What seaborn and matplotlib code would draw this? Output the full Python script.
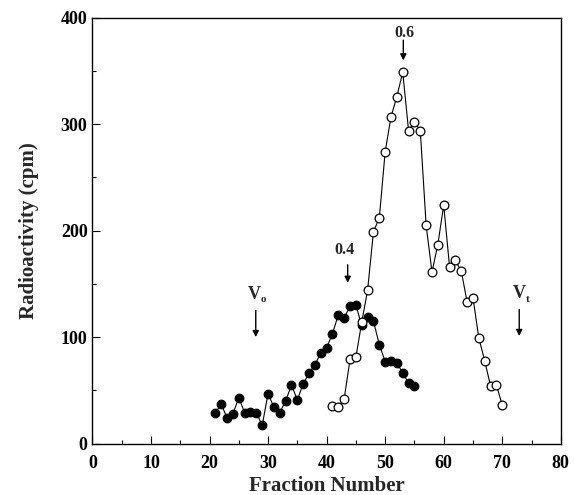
import matplotlib.pyplot as plt
import matplotlib.ticker as mt
import pandas as pd
import seaborn as sns

# fractions and counts
closed_fraction = list(range(21, 56))
closed_cpm = [29, 37, 24, 28, 43, 29, 30, 29, 17, 47, 34, 29, 40, 55, 41, 56, 66, 74,
              85, 90, 103, 121, 118, 129, 130, 111, 119, 115, 93, 77, 78, 76, 66, 57, 54]
open_fraction = list(range(41, 71))
open_cpm = [35, 34, 42, 79, 81, 114, 144, 199, 212, 274, 307, 326, 349, 294, 302, 294,
            205, 161, 187, 224, 166, 172, 162, 133, 137, 99, 78, 54, 55, 36]

sns.set_style("ticks")
plt.rcParams['font.family'] = ['Liberation Serif', 'DejaVu Serif']
plt.rcParams['font.weight'] = 'bold'

closed = pd.DataFrame({"fraction": closed_fraction, "cpm": closed_cpm})
opened = pd.DataFrame({"fraction": open_fraction, "cpm": open_cpm})

fig = plt.figure(figsize=(5.74, 4.95), dpi=100)
ax = fig.add_axes([0.161, 0.104, 0.816, 0.860])

sns.lineplot(ax=ax, data=closed, x="fraction", y="cpm", color="black", lw=0.8,
             marker="o", markersize=6.3, markerfacecolor="black", markeredgecolor="black")
sns.lineplot(ax=ax, data=opened, x="fraction", y="cpm", color="black", lw=0.8,
             marker="o", markersize=6.3, markerfacecolor="white", markeredgecolor="black",
             markeredgewidth=0.9)

ax.set_xlim(0, 80)
ax.set_ylim(0, 400)
ax.xaxis.set_major_locator(mt.MultipleLocator(10))
ax.xaxis.set_minor_locator(mt.MultipleLocator(5))
ax.yaxis.set_major_locator(mt.MultipleLocator(100))
ax.yaxis.set_minor_locator(mt.MultipleLocator(50))
ax.tick_params(which="both", direction="in", labelsize=13, width=0.8, colors="black")
ax.tick_params(which="major", length=6)
ax.tick_params(which="minor", length=3)
ax.tick_params(axis="x", pad=8)
for s in ax.spines.values():
    s.set_linewidth(1.0)
    s.set_color("black")

ax.set_xlabel("Fraction Number", fontsize=15, fontweight="bold", labelpad=3)
ax.set_ylabel("Radioactivity (cpm)", fontsize=15, fontweight="bold", labelpad=16)

arrow = dict(arrowstyle="-|>", color="black", lw=1, mutation_scale=9, shrinkA=0, shrinkB=0)
# V0 marker
ax.annotate("", xy=(27.9, 100), xytext=(27.9, 125), arrowprops=arrow)
ax.text(27.6, 132, "V", ha="center", va="bottom", fontsize=13, fontweight="bold")
ax.text(28.8, 131, "o", ha="left", va="bottom", fontsize=8, fontweight="bold")
# 0.4
ax.annotate("", xy=(43.6, 151), xytext=(43.6, 168), arrowprops=arrow)
ax.text(43.1, 174, "0.4", ha="center", va="bottom", fontsize=11.5, fontweight="bold")
# 0.6
ax.annotate("", xy=(53.1, 360), xytext=(53.1, 379), arrowprops=arrow)
ax.text(53.3, 378, "0.6", ha="center", va="bottom", fontsize=11.5, fontweight="bold")
# Vt
ax.annotate("", xy=(72.9, 101), xytext=(72.9, 126), arrowprops=arrow)
ax.text(72.9, 133, "V", ha="center", va="bottom", fontsize=13, fontweight="bold")
ax.text(74.0, 131, "t", ha="left", va="bottom", fontsize=8, fontweight="bold")

fig.savefig("out.png", dpi=100)
